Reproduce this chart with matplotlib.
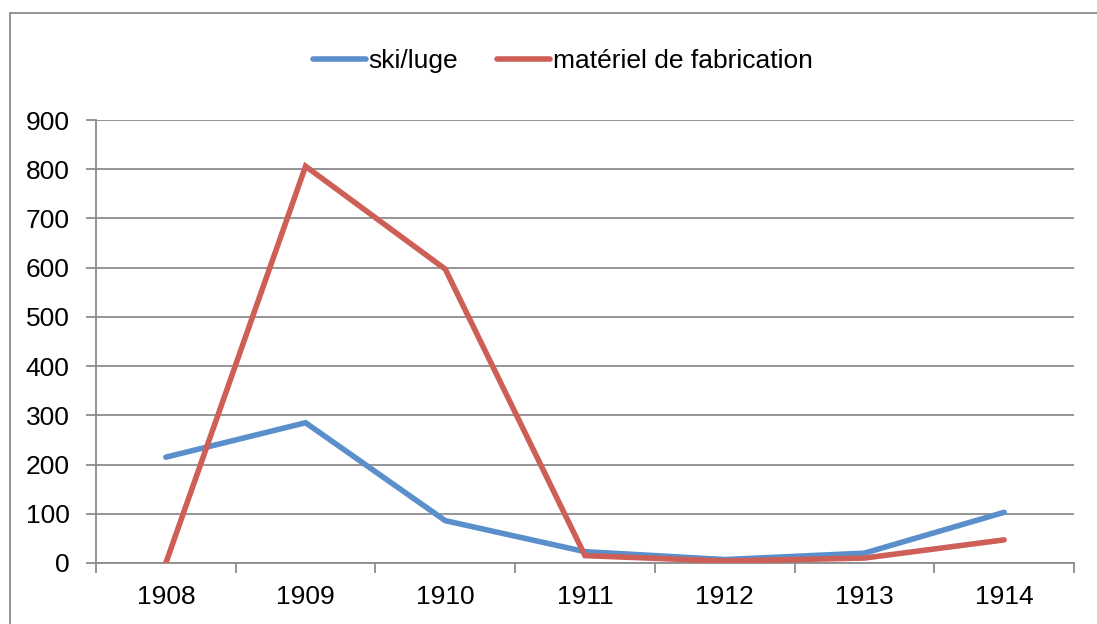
#-------------------------------------------------------------------------
# ski/luge vs materiel de fabrication, 1908-1914
#-------------------------------------------------------------------------

import matplotlib
matplotlib.use( 'Agg' )
import matplotlib.pyplot as plt
from matplotlib.patches import Rectangle
import numpy as np

plt.rcParams['font.family'] = ['Liberation Sans', 'DejaVu Sans']
plt.rcParams['font.size']   = 19

#-------------------------------------------------------------------------
# Raw data
#-------------------------------------------------------------------------

years = [ '1908', '1909', '1910', '1911', '1912', '1913', '1914' ]

ski_luge  = [ 215, 285, 86, 23, 7, 20, 103 ]
materiel  = [ 0, 806, 597, 15, 4, 10, 47 ]

series_names = [ 'ski/luge', 'matériel de fabrication' ]

colors = {
  'ski/luge'                : '#5A8FCB',
  'matériel de fabrication' : '#CD5F57',
}

#-------------------------------------------------------------------------
# Create plot
#-------------------------------------------------------------------------

fig = plt.figure( figsize=(10.97, 6.24), dpi=100 )
ax  = fig.add_axes( [ 96/1097, 1-563/624, (1074-96)/1097, (563-120)/624 ] )

ind = np.arange( len(years) )

lines = []
for name, values in zip( series_names, [ ski_luge, materiel ] ):
  ln, = ax.plot( ind, values, color=colors[name], linewidth=4.0,
                 solid_capstyle='round', solid_joinstyle='miter', zorder=3 )
  lines.append( ln )

# Axes

gray = '#8C8C8C'

ax.set_xlim( -0.5, len(years) - 0.5 )
ax.set_ylim( 0, 900 )
ax.set_yticks( np.arange( 0, 901, 100 ) )
ax.set_xticks( ind )
ax.set_xticklabels( years )
ax.set_xticks( np.arange( -0.5, len(years), 1.0 ), minor=True )

ax.tick_params( axis='x', which='major', length=0, pad=16, labelsize=19 )
ax.tick_params( axis='x', which='minor', length=7, width=1.3, color=gray,
                direction='out' )
ax.tick_params( axis='y', length=7, width=1.3, color=gray, direction='out',
                pad=12, labelsize=19 )

ax.grid( True, axis='y', color=gray, linewidth=1.3 )
ax.set_axisbelow( True )

for side in [ 'top', 'right' ]:
  ax.spines[side].set_visible( False )
for side in [ 'left', 'bottom' ]:
  ax.spines[side].set_color( gray )
  ax.spines[side].set_linewidth( 1.3 )

# Legend

legend = fig.legend(
  lines, series_names, loc='center', bbox_to_anchor=(0.513, 0.902),
  ncol=2, frameon=False, handlelength=2.0, handletextpad=0.1,
  columnspacing=1.5, fontsize=19
)

# Outer chart border

fig.patches.append( Rectangle( (10/1097, -0.1), 1.2, 1.1 - 13/624,
                               transform=fig.transFigure, fill=False,
                               edgecolor=gray, linewidth=1.3 ) )

plt.savefig( 'out.png', dpi=100 )
